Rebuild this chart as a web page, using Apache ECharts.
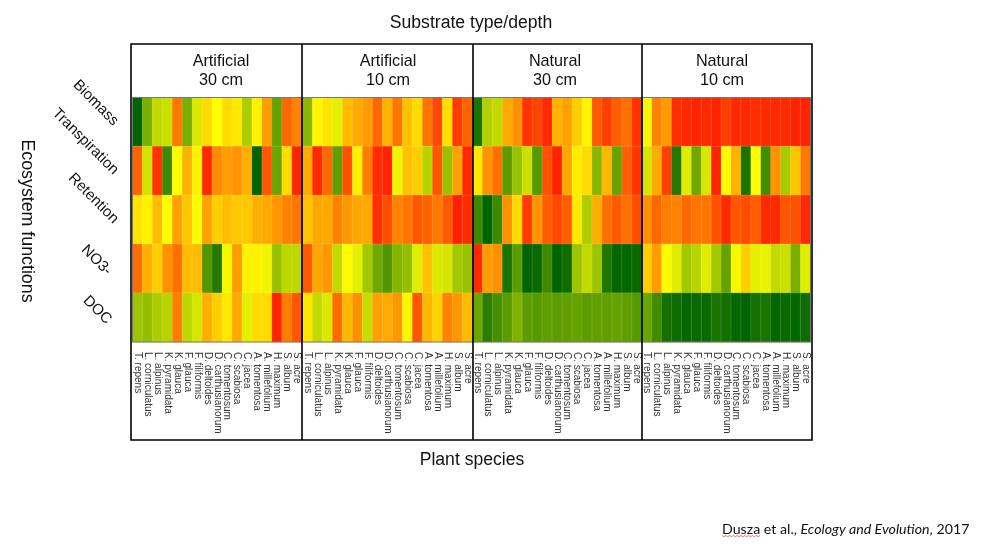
<!DOCTYPE html>
<html><head><meta charset="utf-8">
<style>html,body{margin:0;padding:0;background:#fff}#c{width:981px;height:544px}</style>
<script src="https://cdn.jsdelivr.net/npm/echarts@6/dist/echarts.min.js"></script>
</head><body><div id="c"></div>
<script>
const species = ['T. repens','L. corniculatus','L. alpinus','K. pyramidata','K. glauca','F. glauca','F. filiformis','D. deltoides','D. carthusianorum','C. tomentosum','C. scabiosa','C. jacea','A. tomentosa','A. millefolium','H. maximum','S. album','S. acre'];
const functionsList = ['Biomass','Transpiration','Retention','NO3-','DOC'];
const panelNames = ['Artificial\n30 cm','Artificial\n10 cm','Natural\n30 cm','Natural\n10 cm'];

// scale: 0 = red, 50 = yellow, 100 = dark green
const artificial30 = [
 [100,76,62,60,20,76,57,42,50,42,45,66,47,28,80,16,22],
 [15,59,4,88,50,33,47,2,24,28,26,32,100,12,79,42,1],
 [44,47,35,50,29,37,49,29,39,35,38,38,32,31,27,22,19],
 [17,32,39,25,18,35,35,84,93,52,28,47,47,53,70,63,63],
 [69,71,66,64,21,63,58,32,39,45,31,55,42,42,1,21,12]
];
const artificial10 = [
 [73,48,44,55,35,31,28,16,33,19,36,42,19,9,43,6,15],
 [31,2,16,81,11,47,21,3,1,53,36,39,64,12,70,29,2],
 [36,30,31,22,27,30,31,3,10,22,19,12,15,20,13,0,3],
 [13,30,27,62,49,55,68,78,84,74,71,56,36,57,58,68,70],
 [44,62,57,17,34,25,61,29,31,27,48,12,34,40,22,27,35]
];
const natural30 = [
 [95,65,62,31,25,4,8,2,33,29,39,48,13,7,14,18,4],
 [45,26,18,82,70,60,83,11,1,30,46,42,73,34,80,14,5],
 [88,100,88,25,42,6,26,14,9,14,45,66,32,18,13,18,10],
 [2,28,25,95,82,100,98,88,100,97,69,62,69,94,99,99,98],
 [79,92,86,82,75,82,83,81,82,81,80,82,81,81,80,81,83]
];
const natural10 = [
 [52,22,28,3,2,1,2,1,7,2,2,3,2,2,2,1,1],
 [58,31,7,93,56,78,58,1,49,33,95,49,87,26,67,37,20],
 [25,16,21,22,16,19,19,11,2,12,10,14,2,2,12,11,2],
 [39,28,49,56,68,64,56,68,80,52,39,55,54,62,60,76,56],
 [79,87,96,97,99,98,98,95,96,99,100,96,95,99,98,99,97]
];
const panels = [artificial30, artificial10, natural30, natural10];
const gridLefts = [132.5, 302.5, 472.5, 642];
const gridWidths = [169.5, 170, 169.5, 168.5];

const font = '"Liberation Sans", Arial, sans-serif';
const grids=[], xAxes=[], yAxes=[], series=[];
panels.forEach((rows,p)=>{
  grids.push({left:gridLefts[p],top:97.5,width:gridWidths[p],height:244.5,show:true,backgroundColor:'transparent',borderColor:'#777',borderWidth:1,z:3});
  xAxes.push({type:'category',gridIndex:p,data:species,axisLine:{show:false},axisTick:{show:false},splitLine:{show:false},
    axisLabel:{interval:0,rotate:-90,fontFamily:font,fontSize:10,color:'#333',margin:10}});
  yAxes.push({type:'category',gridIndex:p,data:functionsList,inverse:true,axisLine:{show:false},axisTick:{show:false},splitLine:{show:false},
    axisLabel:{show:p===0,interval:0,rotate:-45,fontFamily:font,fontSize:15,color:'#111',margin:15,
      formatter:(v,i)=> i>=3 ? '{b|'+v+'}' : '{a|'+v+'}',
      rich:{a:{fontFamily:font,fontSize:15,color:'#111',padding:[4,0,0,0]},b:{fontFamily:font,fontSize:15,color:'#111',padding:[18,3,0,0]}}}});
  const d=[];
  rows.forEach((r,y)=>r.forEach((v,x)=>d.push([x,y,v])));
  series.push({type:'heatmap',xAxisIndex:p,yAxisIndex:p,data:d,progressive:0,animation:false,
    itemStyle:{borderColor:'rgba(255,255,255,0.22)',borderWidth:0.6},emphasis:{disabled:true}});
});

const txt=(x,y,t,size,extra)=>Object.assign({type:'text',x,y,silent:true,z:20,
  style:{text:t,fontFamily:font,fontSize:size,fill:'#111',align:'center',verticalAlign:'middle',lineHeight:size*1.2}},extra||{});
const elements=[
  txt(471,23,'Substrate type/depth',17.6),
  txt(472,460,'Plant species',17.6),
  Object.assign(txt(27,221,'Ecosystem functions',17.8),{rotation:-Math.PI/2}),
  {type:'rect',shape:{x:131,y:44,width:681,height:396},style:{fill:'none',stroke:'#000',lineWidth:1.6},z:15,silent:true},
  {type:'line',shape:{x1:302,y1:44,x2:302,y2:440},style:{stroke:'#000',lineWidth:1.6},z:15,silent:true},
  {type:'line',shape:{x1:473,y1:44,x2:473,y2:440},style:{stroke:'#000',lineWidth:1.6},z:15,silent:true},
  {type:'line',shape:{x1:642,y1:44,x2:642,y2:440},style:{stroke:'#000',lineWidth:1.6},z:15,silent:true},
];
[221,388,555,722].forEach((cx,i)=>elements.push(txt(cx,71,panelNames[i],16.2)));
elements.push({type:'text',x:722,y:529,silent:true,z:20,style:{
  rich:{n:{fontFamily:'Lato, "Open Sans", sans-serif',fontSize:14.2,fill:'#111'},
        i:{fontFamily:'Lato, "Open Sans", sans-serif',fontSize:14.2,fontStyle:'italic',fill:'#111'}},
  text:'{n|Dusza et al., }{i|Ecology and Evolution}{n|, 2017}',verticalAlign:'middle',align:'left'}});
const squiggle=[];
for(let i=0;i<=20;i++) squiggle.push([722+i*1.9, 535.5+(i%2)*1.2]);
elements.push({type:'polyline',shape:{points:squiggle},style:{stroke:'#d33',lineWidth:0.7,fill:'none'},z:20,silent:true});

const chart=echarts.init(document.getElementById('c'),null,{renderer:'canvas'});
chart.setOption({animation:false,backgroundColor:'#fff',tooltip:{show:false},
  grid:grids,xAxis:xAxes,yAxis:yAxes,series,graphic:{elements},
  visualMap:{show:false,min:0,max:100,seriesIndex:[0,1,2,3],inRange:{color:['#ff2000','#ffff00','#006400']}}
});
</script></body></html>
